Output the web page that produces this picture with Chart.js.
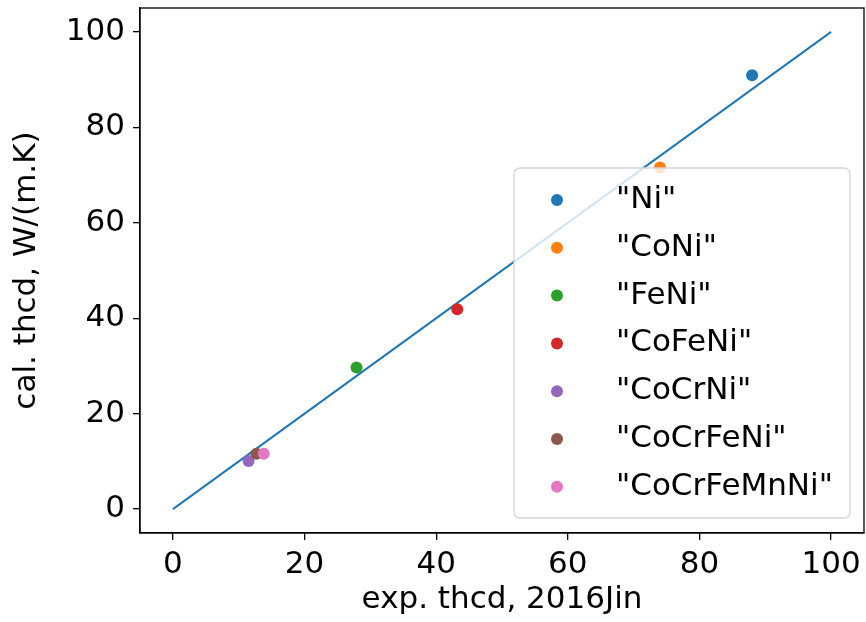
<!DOCTYPE html>
<html>
<head>
<meta charset="utf-8">
<script src="https://cdn.jsdelivr.net/npm/chart.js@4.4.1/dist/chart.umd.min.js"></script>
<style>
html, body { margin: 0; padding: 0; background: #fff; }
#wrap { width: 866px; height: 622px; }
</style>
</head>
<body>
<div id="wrap"><canvas id="canvas"></canvas></div>
<script>
// measured vs calculated thermal conductivity per alloy
var alloyNames = ['"Ni"', '"CoNi"', '"FeNi"', '"CoFeNi"', '"CoCrNi"', '"CoCrFeNi"', '"CoCrFeMnNi"'];
var expThcd = [88.0, 74.0, 27.9, 43.2, 11.5, 12.7, 13.8];
var calThcd = [90.9, 71.6, 29.7, 41.9, 10.1, 11.6, 11.6];
var alloyColors = ['#1f77b4', '#ff7f0e', '#2ca02c', '#d62728', '#9467bd', '#8c564b', '#e377c2'];

// y = x reference line
var parityX = [0, 100];
var parityY = [0, 100];

var tickValues = [0, 20, 40, 60, 80, 100];

var ctx = document.getElementById('canvas').getContext('2d');

Chart.defaults.font.family = "'DejaVu Sans', sans-serif";
Chart.defaults.font.size = 31;
Chart.defaults.color = '#000';

var datasets = [{
    label: 'parity',
    data: parityX.map(function (x, i) { return { x: x, y: parityY[i] }; }),
    showLine: true,
    borderColor: '#1f77b4',
    borderWidth: 2,
    pointRadius: 0,
    order: 100,
    hideInLegend: true
}];

for (let i = 0; i < alloyNames.length; i++) {
    datasets.push({
        label: alloyNames[i],
        data: [{ x: expThcd[i], y: calThcd[i] }],
        backgroundColor: alloyColors[i],
        borderWidth: 0,
        pointRadius: 6,
        // later alloys sit on top
        order: alloyNames.length - i
    });
}

function fixedTicks(scale) {
    scale.ticks = tickValues.map(function (v) { return { value: v }; });
}

// closes the frame on the top and right sides
var frame = {
    id: 'frame',
    afterDatasetsDraw: function (chart) {
        var a = chart.chartArea;
        var c = chart.ctx;
        c.save();
        c.strokeStyle = '#000';
        c.lineWidth = 1.3;
        c.strokeRect(a.left, a.top, a.right - a.left, a.bottom - a.top);
        c.restore();
    }
};

// boxed legend in the lower right corner of the plot
var boxLegend = {
    id: 'boxLegend',
    afterDraw: function (chart) {
        var a = chart.chartArea;
        var c = chart.ctx;
        var items = chart.data.datasets.filter(function (d) { return !d.hideInLegend; });
        var w = 336, h = 350;
        var x = a.right - 14 - w;
        var y = a.bottom - 15 - h;
        c.save();
        c.beginPath();
        c.roundRect(x, y, w, h, 6);
        c.fillStyle = 'rgba(255,255,255,0.8)';
        c.fill();
        c.strokeStyle = '#d5d5d5';
        c.lineWidth = 1.3;
        c.stroke();
        c.font = '31px "DejaVu Sans", sans-serif';
        c.textBaseline = 'middle';
        c.textAlign = 'left';
        items.forEach(function (d, i) {
            var ry = y + 32 + i * 47.8;
            c.beginPath();
            c.arc(x + 43, ry, 6, 0, Math.PI * 2);
            c.fillStyle = d.backgroundColor;
            c.fill();
            c.fillStyle = '#000';
            c.fillText(d.label, x + 102, ry);
        });
        c.restore();
    }
};

var myChart = new Chart(ctx, {
    type: 'scatter',
    data: { datasets: datasets },
    options: {
        responsive: true,
        maintainAspectRatio: false,
        animation: false,
        layout: { autoPadding: false, padding: { top: 8, right: 2, bottom: 0, left: 0 } },
        plugins: {
            legend: { display: false },
            tooltip: { enabled: false }
        },
        scales: {
            x: {
                type: 'linear',
                min: -5,
                max: 105,
                afterBuildTicks: fixedTicks,
                afterFit: function (scale) {
                    scale.height = 89;
                    scale.paddingLeft = 0;
                    scale.paddingRight = 0;
                },
                border: { display: true, color: '#000', width: 1.3 },
                grid: { drawOnChartArea: false, drawTicks: true, tickLength: 7, color: '#000', lineWidth: 1.3 },
                ticks: { padding: 6, maxRotation: 0 },
                title: { display: true, text: 'exp. thcd, 2016Jin', padding: { top: 0, bottom: 3 } }
            },
            y: {
                type: 'linear',
                min: -5,
                max: 105,
                afterBuildTicks: fixedTicks,
                afterFit: function (scale) {
                    scale.width = 140;
                    scale.paddingTop = 0;
                    scale.paddingBottom = 0;
                },
                border: { display: true, color: '#000', width: 1.3 },
                grid: { drawOnChartArea: false, drawTicks: true, tickLength: 7, color: '#000', lineWidth: 1.3 },
                ticks: { padding: 8 },
                title: { display: true, text: 'cal. thcd, W/(m.K)', padding: { top: 8, bottom: 0 } }
            }
        }
    },
    plugins: [frame, boxLegend]
});
</script>
</body>
</html>
